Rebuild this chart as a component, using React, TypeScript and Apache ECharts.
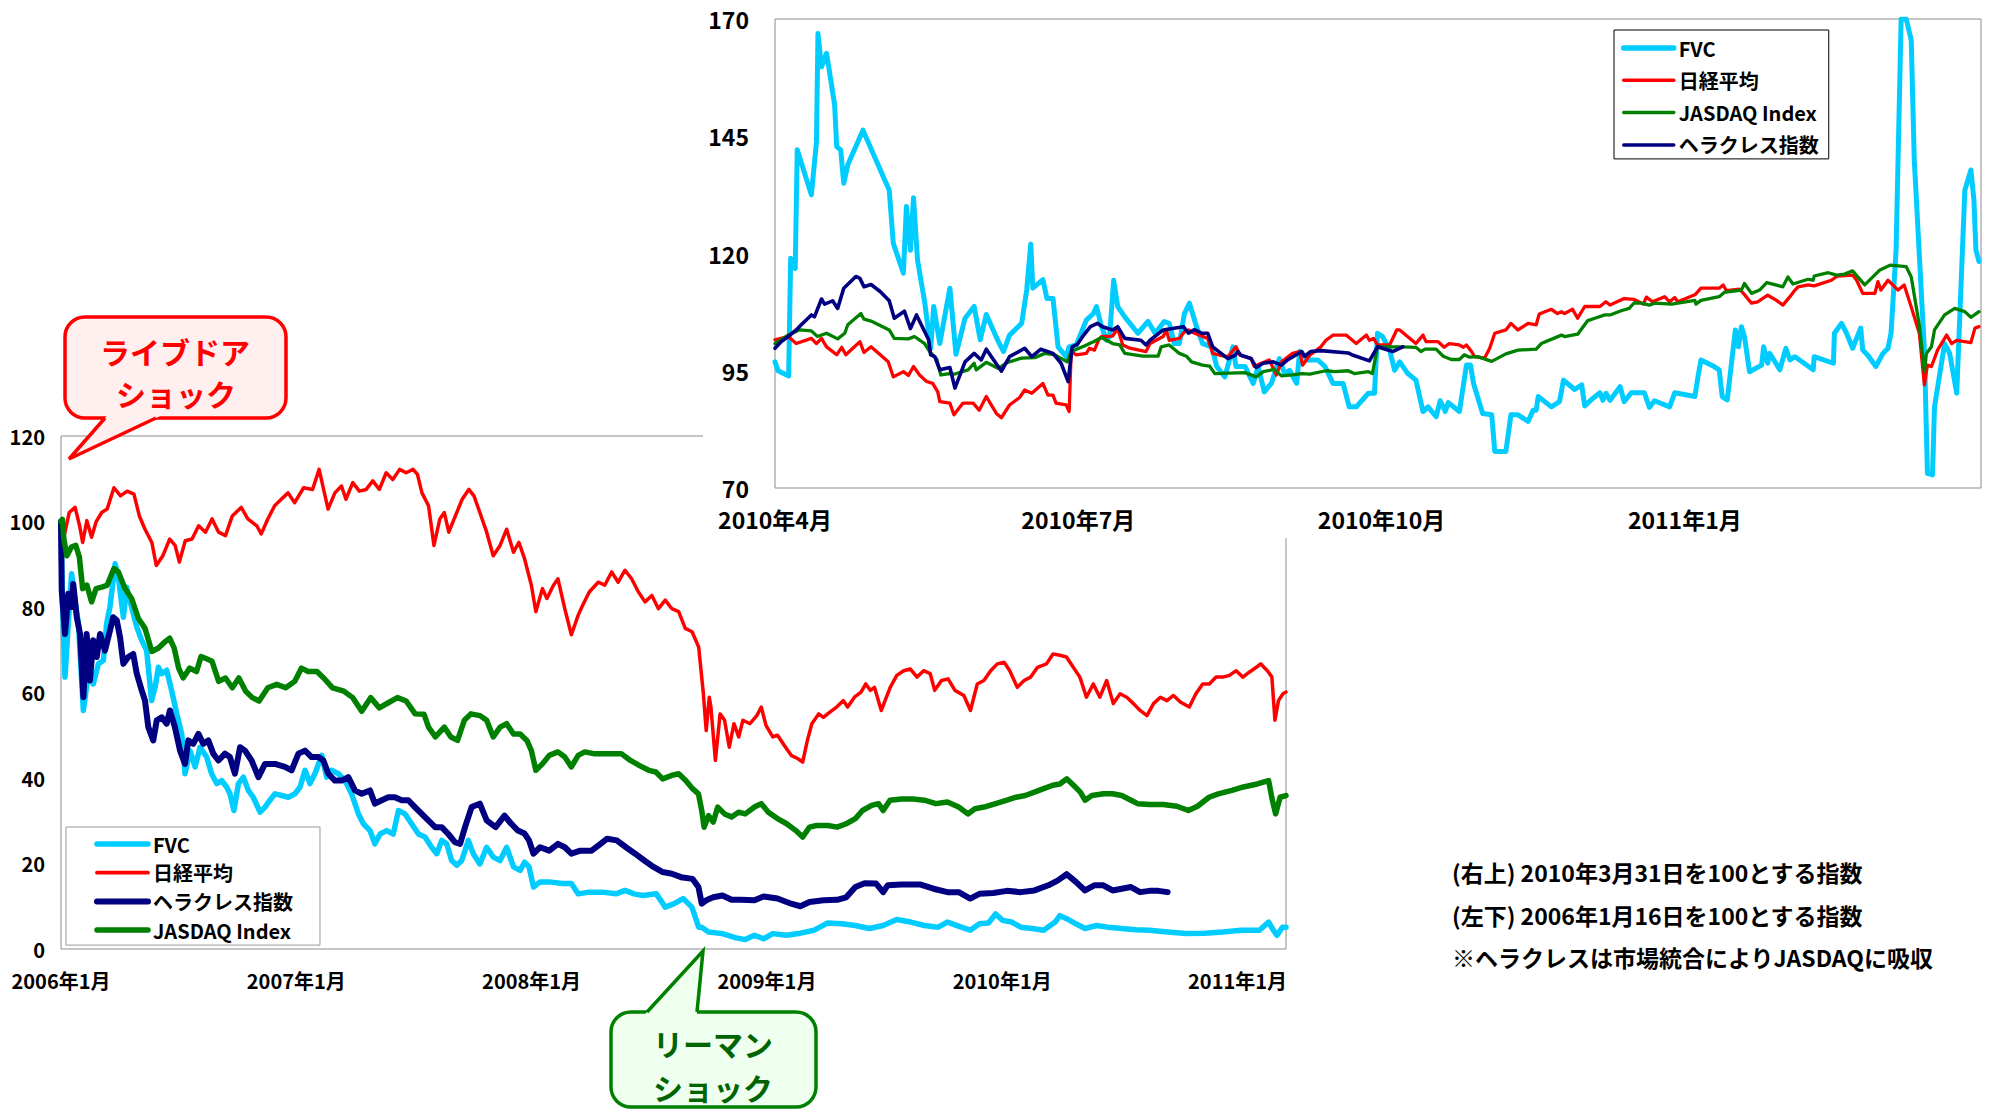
import React, { useEffect, useRef } from 'react';
import * as echarts from 'echarts';

const FONT = '"Noto Sans CJK JP", "Noto Sans", sans-serif';

// ---- labels ----
const trXLabels = ['2010年4月', '2010年7月', '2010年10月', '2011年1月'];
const blXLabels = ['2006年1月', '2007年1月', '2008年1月', '2009年1月', '2010年1月', '2011年1月'];
const NAME_FVC = 'FVC';
const NAME_NIKKEI = '日経平均';
const NAME_JASDAQ = 'JASDAQ Index';
const NAME_HERC = 'ヘラクレス指数';
const notes = [
  '(右上) 2010年3月31日を100とする指数',
  '(左下) 2006年1月16日を100とする指数',
  '※ヘラクレスは市場統合によりJASDAQに吸収',
];

// ---- top-right chart: x = months after 2010-04-01, value = index (2010-03-31 = 100) ----
const trFVC: [number, number][] = [
  [0, 96.9], [0.03, 95.0], [0.135, 93.9], [0.155, 119.0], [0.2, 116.8], [0.22, 142.1], [0.36, 132.5], [0.41, 143.8],
  [0.425, 166.9], [0.46, 159.8], [0.51, 162.7], [0.59, 151.7], [0.61, 142.8], [0.65, 142.1], [0.68, 135.0], [0.72, 138.9],
  [0.87, 146.3], [1.13, 133.5], [1.17, 122.2], [1.27, 115.8], [1.3, 130.0], [1.34, 120.7], [1.37, 131.9], [1.41, 118.6],
  [1.48, 109.7], [1.54, 99.8], [1.57, 108.7], [1.63, 100.8], [1.73, 112.6], [1.79, 98.5], [1.88, 106.2], [1.97, 108.7],
  [2.03, 101.6], [2.09, 107.0], [2.21, 101.2], [2.26, 99.1], [2.32, 102.6], [2.44, 105.1], [2.49, 112.2], [2.53, 122.0],
  [2.55, 112.6], [2.65, 114.4], [2.69, 110.4], [2.75, 110.4], [2.8, 100.1], [2.88, 98.0], [2.91, 100.1], [2.98, 100.5],
  [3.08, 105.8], [3.15, 107.2], [3.18, 108.7], [3.23, 104.4], [3.28, 101.5], [3.31, 102.3], [3.35, 114.3], [3.39, 108.7],
  [3.46, 106.5], [3.59, 103.0], [3.69, 105.5], [3.76, 103.0], [3.85, 105.5], [3.9, 105.1], [3.95, 100.8], [4.0, 100.8],
  [4.05, 107.2], [4.1, 109.4], [4.17, 104.4], [4.23, 100.8], [4.32, 100.1], [4.37, 95.9], [4.45, 93.7], [4.53, 100.1],
  [4.56, 95.9], [4.65, 95.9], [4.73, 92.3], [4.78, 95.9], [4.84, 90.5], [4.91, 92.3], [4.99, 97.6], [5.04, 94.4],
  [5.09, 95.1], [5.16, 92.3], [5.19, 99.1], [5.27, 97.3], [5.37, 97.3], [5.44, 95.9], [5.52, 92.3], [5.62, 92.3],
  [5.68, 87.3], [5.75, 87.3], [5.87, 90.2], [5.93, 90.2], [5.96, 103.0], [6.01, 102.3], [6.08, 99.4], [6.13, 95.1],
  [6.18, 96.9], [6.26, 94.4], [6.34, 93.0], [6.41, 86.3], [6.46, 87.3], [6.54, 85.2], [6.58, 88.6], [6.63, 86.3],
  [6.66, 88.2], [6.77, 86.3], [6.84, 96.2], [6.88, 96.2], [6.91, 92.3], [7.0, 85.9], [7.09, 85.6], [7.12, 77.8],
  [7.23, 77.8], [7.28, 85.6], [7.35, 85.6], [7.45, 84.2], [7.5, 86.6], [7.53, 86.6], [7.55, 89.5], [7.68, 87.3],
  [7.76, 88.4], [7.8, 93.0], [7.91, 91.0], [7.98, 92.0], [8.01, 87.5], [8.09, 89.1], [8.16, 90.3], [8.19, 88.7],
  [8.22, 90.2], [8.26, 88.7], [8.36, 91.6], [8.4, 88.4], [8.47, 90.3], [8.6, 90.3], [8.65, 87.2], [8.7, 88.6],
  [8.85, 87.3], [8.9, 90.3], [9.1, 89.5], [9.13, 93.7], [9.16, 97.3], [9.29, 95.9], [9.34, 95.2], [9.37, 89.5],
  [9.42, 88.8], [9.5, 103.7], [9.53, 100.1], [9.56, 104.4], [9.59, 102.3], [9.64, 94.8], [9.76, 96.2], [9.78, 100.1],
  [9.82, 96.6], [9.84, 98.7], [9.94, 95.2], [10.0, 99.8], [10.04, 97.3], [10.09, 98.0], [10.27, 95.2], [10.28, 98.0],
  [10.47, 96.6], [10.48, 103.0], [10.55, 105.1], [10.6, 103.0], [10.66, 99.8], [10.74, 104.1], [10.76, 99.4], [10.81, 98.3],
  [10.89, 95.9], [10.96, 98.7], [11.01, 99.8], [11.04, 103.0], [11.09, 120.7], [11.14, 170], [11.19, 170], [11.24, 165.5],
  [11.27, 139.9], [11.37, 99.4], [11.4, 73.1], [11.45, 72.8], [11.47, 87.3], [11.57, 100.8], [11.62, 98.7], [11.69, 90.2],
  [11.77, 133.5], [11.83, 137.8], [11.86, 131.4], [11.88, 120.7], [11.91, 118.3],
];
const trNikkei: [number, number][] = [
  [0, 101.6], [0.13, 102.3], [0.21, 100.8], [0.36, 101.9], [0.41, 100.8], [0.46, 101.9], [0.51, 100.1], [0.61, 98.4],
  [0.66, 100.0], [0.7, 98.4], [0.84, 101.2], [0.88, 98.9], [0.95, 100.1], [1.12, 96.9], [1.17, 93.7], [1.27, 94.8],
  [1.32, 94.0], [1.37, 95.9], [1.43, 94.1], [1.5, 92.7], [1.56, 92.3], [1.61, 90.5], [1.63, 88.4], [1.73, 88.1],
  [1.77, 85.6], [1.86, 88.1], [1.96, 88.1], [2.02, 86.6], [2.09, 89.5], [2.19, 85.9], [2.24, 85.0], [2.32, 87.7],
  [2.42, 89.3], [2.47, 90.9], [2.54, 90.2], [2.65, 92.3], [2.7, 89.8], [2.75, 89.8], [2.78, 88.1], [2.88, 87.7],
  [2.91, 86.3], [2.93, 99.1], [2.98, 98.4], [3.08, 98.7], [3.11, 99.8], [3.16, 99.4], [3.2, 101.5], [3.23, 102.3],
  [3.34, 102.4], [3.39, 104.0], [3.44, 100.5], [3.51, 99.8], [3.67, 99.1], [3.71, 100.8], [3.84, 102.3], [3.87, 103.7],
  [3.9, 101.5], [4.0, 101.9], [4.05, 103.3], [4.09, 103.7], [4.15, 103.0], [4.28, 101.9], [4.33, 98.7], [4.4, 98.3],
  [4.48, 98.0], [4.56, 100.1], [4.6, 98.3], [4.71, 97.6], [4.74, 95.9], [4.81, 96.6], [4.89, 97.3], [4.96, 94.1],
  [5.01, 96.9], [5.12, 98.7], [5.19, 99.1], [5.22, 96.2], [5.29, 98.3], [5.4, 100.1], [5.45, 101.5], [5.52, 102.6],
  [5.65, 102.6], [5.75, 100.8], [5.85, 102.6], [5.88, 101.5], [5.92, 101.9], [5.96, 100.5], [6.08, 100.5], [6.15, 103.7],
  [6.18, 103.7], [6.34, 100.8], [6.41, 102.6], [6.44, 101.2], [6.56, 101.2], [6.62, 100.0], [6.67, 100.8], [6.77, 100.5],
  [6.81, 100.0], [6.84, 100.5], [6.89, 99.1], [6.92, 98.0], [7.02, 97.7], [7.07, 99.8], [7.12, 103.0], [7.23, 103.7],
  [7.28, 105.1], [7.35, 103.7], [7.45, 105.1], [7.53, 104.8], [7.56, 107.1], [7.68, 108.1], [7.74, 107.2], [7.78, 107.6],
  [7.81, 107.2], [7.89, 108.1], [7.94, 106.2], [8.01, 108.7], [8.16, 108.7], [8.22, 109.7], [8.26, 109.0], [8.4, 110.4],
  [8.5, 110.2], [8.59, 109.2], [8.62, 110.7], [8.68, 109.7], [8.8, 110.8], [8.85, 109.7], [8.9, 110.6], [8.93, 109.7],
  [9.1, 111.2], [9.16, 112.6], [9.34, 112.6], [9.38, 113.3], [9.41, 112.1], [9.54, 112.4], [9.58, 111.5], [9.66, 109.4],
  [9.72, 109.7], [9.82, 111.1], [9.9, 110.1], [9.97, 109.0], [10.04, 110.8], [10.09, 112.2], [10.12, 112.9], [10.22, 113.3],
  [10.28, 113.1], [10.45, 114.3], [10.51, 115.2], [10.66, 115.4], [10.7, 114.3], [10.76, 111.5], [10.88, 111.5], [10.91, 114.0],
  [10.94, 112.2], [11.01, 114.3], [11.11, 112.2], [11.17, 113.3], [11.24, 108.6], [11.32, 103.0], [11.37, 92.0], [11.4, 96.2],
  [11.44, 95.9], [11.5, 99.4], [11.59, 102.6], [11.64, 100.8], [11.69, 101.5], [11.83, 101.0], [11.87, 104.1], [11.91, 104.4],
];
const trJasdaq: [number, number][] = [
  [0, 100.8], [0.13, 102.6], [0.24, 103.7], [0.36, 103.5], [0.42, 102.3], [0.51, 103.0], [0.62, 101.8], [0.69, 103.0],
  [0.72, 104.8], [0.85, 107.2], [0.88, 106.0], [0.95, 105.6], [1.13, 103.7], [1.18, 101.9], [1.32, 101.8], [1.38, 102.3],
  [1.48, 100.8], [1.53, 99.1], [1.6, 97.5], [1.64, 94.1], [1.73, 94.4], [1.78, 94.3], [1.91, 95.2], [1.97, 96.6],
  [1.99, 95.2], [2.09, 96.8], [2.21, 95.5], [2.3, 96.8], [2.44, 97.7], [2.57, 97.8], [2.67, 98.7], [2.77, 98.4],
  [2.89, 96.9], [2.93, 99.1], [3.06, 100.3], [3.15, 101.2], [3.23, 102.1], [3.34, 100.8], [3.41, 100.5], [3.46, 98.7],
  [3.64, 98.1], [3.79, 98.1], [3.82, 100.1], [3.9, 100.5], [4.0, 98.7], [4.07, 98.1], [4.12, 96.9], [4.23, 96.2],
  [4.3, 96.0], [4.35, 94.4], [4.65, 94.6], [4.76, 93.7], [4.83, 94.8], [4.94, 95.3], [5.01, 93.9], [5.12, 94.1],
  [5.21, 94.4], [5.29, 94.3], [5.45, 95.0], [5.54, 94.8], [5.67, 95.0], [5.73, 94.4], [5.87, 94.8], [5.91, 94.4],
  [5.96, 100.1], [6.21, 100.1], [6.34, 100.0], [6.39, 99.1], [6.43, 99.6], [6.54, 99.6], [6.61, 98.1], [6.69, 97.4],
  [6.77, 97.4], [6.82, 98.4], [6.87, 97.9], [6.95, 98.0], [7.09, 97.0], [7.23, 98.6], [7.35, 99.4], [7.53, 99.6],
  [7.58, 100.8], [7.78, 102.6], [7.81, 102.3], [7.94, 102.8], [8.04, 105.7], [8.11, 106.2], [8.21, 106.9], [8.26, 106.9],
  [8.37, 107.8], [8.45, 108.3], [8.5, 109.5], [8.57, 109.4], [8.65, 109.0], [8.7, 109.4], [8.87, 109.2], [9.1, 110.0],
  [9.11, 109.2], [9.16, 110.0], [9.34, 110.8], [9.39, 111.7], [9.56, 112.2], [9.59, 113.6], [9.66, 111.5], [9.74, 112.2],
  [9.81, 113.8], [9.97, 112.9], [10.02, 115.0], [10.07, 113.5], [10.22, 114.5], [10.27, 114.3], [10.28, 115.2], [10.42, 115.9],
  [10.5, 115.4], [10.58, 115.6], [10.66, 116.3], [10.78, 113.3], [10.93, 116.5], [11.03, 117.5], [11.19, 117.2], [11.24, 115.0],
  [11.32, 104.7], [11.37, 94.8], [11.39, 98.7], [11.44, 100.1], [11.47, 103.7], [11.57, 106.9], [11.67, 108.3], [11.77, 107.6],
  [11.83, 106.4], [11.91, 107.6],
];
const trHerc: [number, number][] = [
  [0, 99.8], [0.06, 101.2], [0.13, 102.3], [0.21, 103.7], [0.26, 104.8], [0.36, 106.9], [0.39, 106.5], [0.46, 110.3],
  [0.49, 109.2], [0.57, 109.9], [0.62, 108.3], [0.68, 112.6], [0.8, 115.1], [0.84, 114.7], [0.88, 112.9], [0.95, 113.4],
  [1.04, 111.9], [1.13, 109.9], [1.18, 106.2], [1.28, 107.7], [1.34, 104.0], [1.4, 106.9], [1.52, 101.6], [1.54, 98.4],
  [1.58, 98.0], [1.63, 95.2], [1.73, 95.7], [1.78, 91.3], [1.88, 96.9], [1.97, 98.7], [2.04, 97.3], [2.09, 99.6],
  [2.24, 94.9], [2.32, 98.0], [2.47, 99.8], [2.54, 98.0], [2.63, 99.6], [2.75, 98.7], [2.83, 96.6], [2.9, 92.7],
  [2.94, 100.1], [2.99, 100.6], [3.05, 102.5], [3.12, 104.4], [3.19, 105.1], [3.24, 104.4], [3.34, 103.7], [3.39, 104.4],
  [3.46, 101.9], [3.62, 101.5], [3.67, 100.5], [3.71, 101.5], [3.84, 103.7], [4.04, 104.4], [4.09, 103.0], [4.15, 103.8],
  [4.22, 103.0], [4.28, 103.0], [4.33, 100.1], [4.48, 97.6], [4.55, 98.3], [4.58, 99.1], [4.61, 98.3], [4.71, 97.6],
  [4.76, 95.7], [4.83, 96.6], [4.93, 96.9], [5.01, 96.2], [5.07, 97.3], [5.21, 99.1], [5.24, 98.1], [5.3, 99.1],
  [5.4, 99.3], [5.67, 98.8], [5.72, 98.3], [5.88, 97.1], [5.96, 100.1], [6.11, 99.1], [6.21, 100.1],
];

// ---- bottom-left chart: x = years after 2006-01-16, value = index (2006-01-16 = 100) ----
const blFVC: [number, number][] = [
  [0, 100], [0.006, 81.5], [0.017, 63.6], [0.031, 76.1], [0.045, 87.8], [0.059, 81.5], [0.074, 76.1], [0.095, 55.8],
  [0.116, 64.4], [0.137, 62.0], [0.159, 66.7], [0.18, 67.5], [0.194, 76.1], [0.208, 80.0], [0.23, 90.1], [0.244, 87.0],
  [0.265, 77.6], [0.279, 84.6], [0.3, 80.0], [0.322, 75.3], [0.343, 72.2], [0.364, 69.8], [0.385, 58.1], [0.4, 61.3],
  [0.414, 65.9], [0.428, 64.4], [0.449, 65.2], [0.47, 60.5], [0.492, 55.0], [0.513, 50.3], [0.527, 41.0], [0.548, 46.4],
  [0.57, 42.6], [0.591, 47.2], [0.619, 44.9], [0.64, 41.0], [0.662, 38.7], [0.683, 39.4], [0.704, 37.9], [0.718, 36.3],
  [0.735, 32.4], [0.754, 38.7], [0.775, 40.2], [0.796, 37.1], [0.817, 35.5], [0.846, 32.0], [0.867, 33.2], [0.888, 34.8],
  [0.909, 36.3], [0.938, 35.9], [0.966, 35.5], [0.994, 36.3], [1.016, 37.9], [1.037, 41.8], [1.058, 38.7], [1.079, 41.0],
  [1.108, 45.3], [1.129, 40.2], [1.15, 41.8], [1.179, 41.0], [1.207, 39.4], [1.235, 36.3], [1.264, 31.6], [1.285, 29.3],
  [1.313, 27.7], [1.334, 24.6], [1.356, 26.9], [1.384, 27.7], [1.412, 26.9], [1.434, 32.4], [1.462, 31.6], [1.49, 29.3],
  [1.519, 26.9], [1.547, 26.2], [1.575, 23.8], [1.597, 22.3], [1.618, 25.4], [1.639, 24.6], [1.66, 20.7], [1.682, 19.6],
  [1.703, 20.7], [1.731, 25.4], [1.752, 22.3], [1.78, 19.9], [1.809, 23.8], [1.837, 21.5], [1.866, 20.7], [1.894, 23.8],
  [1.923, 19.2], [1.951, 18.4], [1.97, 20.3], [1.989, 19.2], [2.008, 14.5], [2.036, 15.7], [2.075, 15.7], [2.131, 15.3],
  [2.169, 15.3], [2.198, 12.9], [2.245, 13.3], [2.302, 13.3], [2.359, 12.9], [2.397, 13.7], [2.435, 12.9], [2.473, 12.5],
  [2.53, 12.9], [2.568, 9.8], [2.606, 10.6], [2.644, 11.8], [2.681, 9.8], [2.71, 5.1], [2.723, 5.1], [2.752, 4.0],
  [2.81, 3.6], [2.869, 2.6], [2.908, 2.2], [2.947, 3.2], [2.986, 2.4], [3.025, 3.6], [3.084, 3.2], [3.142, 3.7],
  [3.201, 4.4], [3.259, 6.1], [3.318, 5.9], [3.376, 5.5], [3.435, 4.8], [3.494, 5.5], [3.552, 6.9], [3.611, 6.3],
  [3.669, 5.5], [3.728, 5.1], [3.767, 6.3], [3.826, 5.1], [3.864, 4.4], [3.903, 5.9], [3.942, 6.1], [3.972, 8.2],
  [4.001, 6.7], [4.04, 6.3], [4.079, 5.1], [4.128, 4.8], [4.176, 4.4], [4.225, 6.3], [4.245, 7.8], [4.274, 7.1],
  [4.313, 5.9], [4.352, 4.8], [4.401, 5.5], [4.45, 5.1], [4.508, 4.8], [4.567, 4.5], [4.625, 4.4], [4.703, 4.0],
  [4.781, 3.6], [4.86, 3.7], [4.937, 4.0], [5.015, 4.4], [5.093, 4.4], [5.132, 6.3], [5.152, 4.4], [5.168, 3.2],
  [5.191, 5.1], [5.206, 5.1],
];
const blNikkei: [number, number][] = [
  [0, 100], [0.012, 96.3], [0.035, 102.1], [0.06, 103.3], [0.079, 99.0], [0.092, 95.1], [0.11, 100.2], [0.13, 96.3],
  [0.149, 99.9], [0.173, 102.1], [0.196, 102.9], [0.225, 107.9], [0.253, 106.0], [0.281, 107.1], [0.31, 106.4], [0.333, 101.3],
  [0.357, 98.2], [0.386, 95.1], [0.405, 89.7], [0.433, 92.0], [0.462, 95.9], [0.485, 94.4], [0.503, 90.5], [0.528, 95.5],
  [0.557, 95.9], [0.585, 99.0], [0.614, 97.5], [0.642, 100.6], [0.67, 97.5], [0.699, 96.7], [0.728, 101.3], [0.766, 103.3],
  [0.794, 100.6], [0.832, 99.0], [0.851, 97.1], [0.879, 100.6], [0.908, 103.7], [0.936, 105.2], [0.965, 106.7], [0.993, 104.4],
  [1.031, 107.9], [1.069, 107.5], [1.097, 112.2], [1.116, 107.5], [1.135, 102.9], [1.164, 106.7], [1.192, 108.3], [1.211, 105.2],
  [1.24, 109.1], [1.268, 107.1], [1.297, 107.5], [1.325, 109.5], [1.353, 107.5], [1.382, 111.4], [1.41, 109.8], [1.439, 112.2],
  [1.467, 111.4], [1.496, 112.2], [1.515, 111.0], [1.534, 106.7], [1.562, 103.7], [1.585, 94.4], [1.61, 100.6], [1.629, 102.1],
  [1.648, 97.5], [1.676, 101.3], [1.705, 105.2], [1.733, 107.5], [1.755, 106.0], [1.78, 102.1], [1.809, 97.5], [1.837, 92.0],
  [1.866, 94.4], [1.894, 98.2], [1.923, 92.8], [1.946, 95.1], [1.97, 91.3], [1.999, 85.1], [2.018, 78.9], [2.046, 84.3],
  [2.065, 82.0], [2.093, 85.1], [2.112, 86.6], [2.141, 79.6], [2.169, 73.5], [2.198, 78.1], [2.217, 80.4], [2.245, 83.5],
  [2.283, 85.8], [2.311, 85.1], [2.34, 88.2], [2.368, 85.8], [2.397, 88.6], [2.425, 86.6], [2.454, 83.5], [2.482, 81.2],
  [2.511, 82.7], [2.539, 79.6], [2.568, 81.6], [2.596, 79.6], [2.625, 78.9], [2.653, 75.0], [2.682, 74.2], [2.71, 70.6],
  [2.73, 59.7], [2.742, 51.1], [2.755, 58.9], [2.762, 56.6], [2.781, 44.1], [2.801, 55.0], [2.82, 53.5], [2.84, 47.2],
  [2.86, 52.7], [2.88, 49.6], [2.898, 53.5], [2.928, 52.7], [2.957, 54.6], [2.976, 56.6], [2.996, 52.3], [3.025, 49.6],
  [3.045, 50.0], [3.074, 47.6], [3.103, 45.3], [3.132, 44.5], [3.152, 43.7], [3.172, 48.8], [3.191, 52.7], [3.22, 55.0],
  [3.24, 54.2], [3.258, 55.0], [3.296, 56.6], [3.325, 58.1], [3.343, 56.6], [3.372, 58.9], [3.4, 60.1], [3.42, 62.0],
  [3.44, 60.5], [3.457, 61.2], [3.486, 55.8], [3.524, 61.2], [3.552, 64.0], [3.581, 65.1], [3.609, 65.5], [3.638, 63.6],
  [3.666, 65.1], [3.694, 64.4], [3.713, 60.5], [3.742, 62.8], [3.77, 63.2], [3.799, 60.5], [3.837, 59.3], [3.865, 55.8],
  [3.894, 62.0], [3.922, 62.8], [3.951, 65.1], [3.979, 66.7], [4.008, 67.1], [4.032, 65.1], [4.064, 61.2], [4.093, 62.8],
  [4.121, 63.6], [4.15, 65.9], [4.188, 66.7], [4.216, 69.0], [4.245, 68.7], [4.273, 68.3], [4.302, 65.9], [4.33, 63.6],
  [4.358, 58.9], [4.387, 62.0], [4.415, 58.9], [4.444, 62.8], [4.472, 57.4], [4.501, 59.7], [4.529, 58.9], [4.558, 57.4],
  [4.586, 55.8], [4.615, 54.6], [4.643, 57.4], [4.672, 58.9], [4.7, 58.1], [4.728, 59.3], [4.757, 57.8], [4.795, 56.6],
  [4.823, 59.7], [4.852, 62.0], [4.88, 62.0], [4.909, 63.6], [4.937, 63.6], [4.966, 64.0], [4.994, 65.1], [5.023, 63.6],
  [5.051, 64.8], [5.08, 65.9], [5.098, 66.7], [5.127, 65.1], [5.146, 63.6], [5.159, 53.5], [5.174, 58.1], [5.193, 59.7],
  [5.206, 60.1],
];
const blHerc: [number, number][] = [
  [0, 100], [0.003, 83.9], [0.017, 73.7], [0.031, 83.1], [0.045, 80.0], [0.052, 85.4], [0.067, 77.6], [0.081, 73.7],
  [0.095, 58.9], [0.109, 73.7], [0.123, 62.8], [0.137, 72.2], [0.152, 68.3], [0.166, 73.7], [0.187, 69.8], [0.201, 72.9],
  [0.222, 77.6], [0.237, 76.9], [0.251, 72.9], [0.265, 66.7], [0.286, 68.3], [0.307, 69.0], [0.322, 64.4], [0.343, 60.5],
  [0.357, 58.1], [0.371, 51.9], [0.392, 48.8], [0.407, 53.5], [0.428, 54.2], [0.449, 52.7], [0.463, 55.8], [0.484, 51.9],
  [0.506, 46.4], [0.527, 43.3], [0.541, 48.8], [0.562, 48.0], [0.584, 50.3], [0.605, 48.0], [0.626, 48.8], [0.647, 45.7],
  [0.669, 44.1], [0.697, 45.7], [0.718, 44.9], [0.739, 41.0], [0.761, 47.2], [0.782, 46.4], [0.81, 44.1], [0.839, 40.2],
  [0.867, 43.3], [0.909, 43.3], [0.952, 42.6], [0.98, 41.8], [1.009, 45.7], [1.037, 46.4], [1.065, 44.9], [1.094, 44.9],
  [1.115, 44.1], [1.136, 41.0], [1.164, 39.4], [1.193, 39.4], [1.221, 40.2], [1.249, 37.1], [1.278, 36.3], [1.313, 37.1],
  [1.334, 34.0], [1.363, 34.8], [1.391, 35.5], [1.419, 35.5], [1.448, 34.8], [1.476, 34.8], [1.504, 33.2], [1.533, 31.6],
  [1.561, 30.1], [1.59, 28.5], [1.618, 28.5], [1.646, 26.9], [1.674, 25.0], [1.696, 24.6], [1.717, 28.5], [1.745, 33.2],
  [1.78, 34.0], [1.809, 30.1], [1.847, 28.5], [1.885, 31.2], [1.913, 29.3], [1.942, 27.7], [1.97, 27.0], [1.989, 25.4],
  [2.008, 22.3], [2.036, 23.8], [2.075, 23.0], [2.112, 24.6], [2.141, 23.8], [2.169, 22.3], [2.207, 23.0], [2.255, 23.0],
  [2.293, 24.6], [2.321, 25.8], [2.362, 25.4], [2.401, 23.8], [2.44, 22.3], [2.479, 20.7], [2.518, 19.2], [2.557, 18.0],
  [2.596, 17.6], [2.635, 16.8], [2.684, 16.4], [2.709, 14.5], [2.723, 10.6], [2.742, 11.4], [2.772, 12.1], [2.811, 12.5],
  [2.85, 11.5], [2.889, 11.5], [2.947, 11.4], [2.986, 12.3], [3.045, 11.8], [3.103, 10.6], [3.142, 10.0], [3.181, 11.0],
  [3.24, 11.4], [3.298, 11.5], [3.337, 12.1], [3.376, 14.5], [3.415, 15.4], [3.464, 15.3], [3.494, 13.3], [3.513, 14.9],
  [3.572, 15.1], [3.65, 15.1], [3.708, 14.1], [3.767, 13.3], [3.815, 13.3], [3.864, 11.8], [3.903, 12.9], [3.962, 13.1],
  [4.02, 13.6], [4.079, 13.3], [4.137, 13.7], [4.196, 14.9], [4.235, 16.0], [4.274, 17.5], [4.313, 15.7], [4.352, 13.7],
  [4.391, 14.9], [4.43, 14.9], [4.469, 13.7], [4.508, 14.1], [4.547, 14.5], [4.586, 13.3], [4.625, 13.6], [4.664, 13.6],
  [4.703, 13.3],
];
const blJasdaq: [number, number][] = [
  [0, 100], [0.006, 100.5], [0.012, 95.9], [0.025, 92.0], [0.044, 94.0], [0.063, 94.4], [0.078, 91.7], [0.092, 84.3],
  [0.11, 85.1], [0.13, 81.2], [0.149, 84.3], [0.177, 84.7], [0.196, 85.1], [0.225, 89.0], [0.244, 88.2], [0.272, 84.3],
  [0.3, 82.0], [0.329, 77.3], [0.357, 75.0], [0.386, 69.6], [0.414, 70.4], [0.443, 71.9], [0.462, 72.7], [0.481, 70.4],
  [0.5, 65.7], [0.519, 63.4], [0.547, 65.7], [0.576, 64.9], [0.595, 68.4], [0.614, 68.0], [0.642, 67.3], [0.67, 62.6],
  [0.699, 63.4], [0.728, 61.1], [0.756, 63.4], [0.785, 60.3], [0.813, 58.8], [0.842, 58.0], [0.879, 61.1], [0.917, 61.9],
  [0.955, 61.1], [0.993, 62.6], [1.022, 65.7], [1.05, 64.9], [1.088, 64.9], [1.116, 63.4], [1.154, 61.1], [1.202, 60.3],
  [1.24, 58.8], [1.278, 55.6], [1.316, 58.8], [1.353, 56.4], [1.391, 57.6], [1.43, 58.8], [1.467, 58.0], [1.505, 55.0],
  [1.543, 54.9], [1.562, 51.9], [1.591, 49.6], [1.629, 51.9], [1.657, 49.6], [1.685, 48.8], [1.714, 53.5], [1.742, 55.0],
  [1.78, 54.6], [1.809, 53.5], [1.837, 49.6], [1.866, 51.9], [1.894, 52.7], [1.923, 50.3], [1.951, 50.3], [1.98, 48.8],
  [1.999, 46.4], [2.018, 41.8], [2.046, 43.3], [2.075, 45.3], [2.112, 46.1], [2.141, 44.9], [2.169, 42.6], [2.198, 45.3],
  [2.226, 46.1], [2.264, 45.7], [2.323, 45.7], [2.381, 45.7], [2.42, 44.1], [2.459, 42.9], [2.498, 41.8], [2.528, 41.4],
  [2.557, 39.8], [2.596, 40.6], [2.625, 41.0], [2.655, 39.4], [2.684, 37.5], [2.709, 36.3], [2.723, 32.4], [2.733, 28.5],
  [2.752, 31.2], [2.772, 29.7], [2.791, 33.2], [2.82, 31.6], [2.85, 30.9], [2.879, 32.0], [2.908, 31.6], [2.947, 33.2],
  [2.976, 34.0], [3.006, 32.0], [3.045, 30.5], [3.084, 29.3], [3.123, 27.7], [3.152, 26.2], [3.181, 28.5], [3.211, 28.9],
  [3.259, 28.9], [3.298, 28.5], [3.337, 29.3], [3.376, 30.5], [3.406, 32.4], [3.445, 33.6], [3.474, 34.0], [3.494, 32.4],
  [3.523, 34.8], [3.572, 35.1], [3.62, 35.1], [3.669, 34.8], [3.718, 34.0], [3.767, 34.4], [3.815, 33.2], [3.854, 31.6],
  [3.884, 32.8], [3.923, 33.2], [3.972, 34.0], [4.02, 34.8], [4.059, 35.5], [4.098, 35.9], [4.137, 36.7], [4.176, 37.5],
  [4.215, 38.3], [4.245, 38.6], [4.274, 39.8], [4.303, 38.3], [4.332, 36.7], [4.352, 34.8], [4.381, 35.9], [4.43, 36.3],
  [4.469, 36.3], [4.508, 35.9], [4.547, 34.8], [4.576, 34.0], [4.625, 33.8], [4.684, 33.8], [4.742, 33.4], [4.791, 32.4],
  [4.83, 33.4], [4.879, 35.5], [4.918, 36.3], [4.976, 37.1], [5.025, 37.9], [5.084, 38.6], [5.132, 39.4], [5.148, 34.8],
  [5.162, 31.6], [5.181, 35.5], [5.206, 35.9],
];

const C_FVC = '#00CCFF';
const C_NIKKEI = '#FF0000';
const C_JASDAQ = '#008000';
const C_HERC = '#000080';

function lineSeries(name: string, data: [number, number][], color: string, width: number, idx: number, z: number) {
  return {
    type: 'line',
    name,
    data,
    xAxisIndex: idx,
    yAxisIndex: idx,
    showSymbol: false,
    symbol: 'none',
    clip: true,
    silent: true,
    z,
    lineStyle: { color, width, cap: 'round', join: 'round' },
    itemStyle: { color },
  };
}

const labelFont = (size: number) => ({ fontSize: size, fontWeight: 'bold', color: '#000', fontFamily: FONT });

export default function App() {
  const ref = useRef<HTMLDivElement>(null);
  useEffect(() => {
    if (!ref.current) return;
    const chart = echarts.init(ref.current, undefined, { renderer: 'svg' });
    const legendText = { fontSize: 20, fontWeight: 'bold', color: '#000', fontFamily: FONT, lineHeight: 22 };
    const noSymbol = { opacity: 0, borderWidth: 0 };
    const option: any = {
      animation: false,
      backgroundColor: '#fff',
      textStyle: { fontFamily: FONT },
      grid: [
        { left: 61, top: 436, width: 1225, height: 513, show: true, borderColor: '#8c8c8c', borderWidth: 1, backgroundColor: 'transparent', z: 0 },
        { left: 775, top: 19, width: 1206, height: 469, show: true, borderColor: '#8c8c8c', borderWidth: 1, backgroundColor: 'transparent', z: 6 },
      ],
      xAxis: [
        {
          type: 'value', gridIndex: 0, min: 0, max: 5.206, interval: 1,
          axisLine: { show: false }, axisTick: { show: false }, splitLine: { show: false },
          axisLabel: {
            ...labelFont(20), margin: 21, showMaxLabel: false,
            formatter: (v: number) => { const i = Math.round(v); return Math.abs(v - i) > 1e-6 ? '' : (blXLabels[i] ?? ''); },
          },
        },
        {
          type: 'value', gridIndex: 1, min: 0, max: 11.93, interval: 3, z: 7,
          axisLine: { show: false }, axisTick: { show: false }, splitLine: { show: false },
          axisLabel: {
            ...labelFont(23), margin: 19, showMaxLabel: false,
            formatter: (v: number) => { const i = Math.round(v / 3); return Math.abs(v - i * 3) > 1e-6 ? '' : (trXLabels[i] ?? ''); },
          },
        },
      ],
      yAxis: [
        {
          type: 'value', gridIndex: 0, min: 0, max: 120, interval: 20,
          axisLine: { show: false }, axisTick: { show: false }, splitLine: { show: false },
          axisLabel: { ...labelFont(20), margin: 16 },
        },
        {
          type: 'value', gridIndex: 1, min: 70, max: 170, interval: 25, z: 7,
          axisLine: { show: false }, axisTick: { show: false }, splitLine: { show: false },
          axisLabel: { ...labelFont(23), margin: 26 },
        },
      ],
      legend: [
        {
          orient: 'vertical', left: 1614, top: 30, padding: [7, 10, 3, 7], itemGap: 10.3,
          itemWidth: 50, itemHeight: 14, backgroundColor: '#fff', borderColor: '#000', borderWidth: 1,
          selectedMode: false, z: 10, textStyle: legendText, itemStyle: noSymbol,
          data: [
            { name: NAME_FVC, lineStyle: { width: 5.5 }, itemStyle: noSymbol },
            { name: NAME_NIKKEI, lineStyle: { width: 3.5 }, itemStyle: noSymbol },
            { name: NAME_JASDAQ, lineStyle: { width: 3.5 }, itemStyle: noSymbol },
            { name: NAME_HERC, lineStyle: { width: 3.5 }, itemStyle: noSymbol },
          ],
        },
        {
          orient: 'vertical', left: 66, top: 827, padding: [6, 27, 4, 28], itemGap: 6.7,
          itemWidth: 51, itemHeight: 14, backgroundColor: '#fff', borderColor: '#999', borderWidth: 1,
          selectedMode: false, z: 10, textStyle: legendText, itemStyle: noSymbol,
          data: [
            { name: NAME_FVC, lineStyle: { width: 5.5 }, itemStyle: noSymbol },
            { name: NAME_NIKKEI, lineStyle: { width: 3.8 }, itemStyle: noSymbol },
            { name: NAME_HERC, lineStyle: { width: 6 }, itemStyle: noSymbol },
            { name: NAME_JASDAQ, lineStyle: { width: 5.5 }, itemStyle: noSymbol },
          ],
        },
      ],
      series: [
        lineSeries(NAME_FVC, blFVC, C_FVC, 5.5, 0, 2),
        lineSeries(NAME_NIKKEI, blNikkei, C_NIKKEI, 3.5, 0, 2),
        lineSeries(NAME_HERC, blHerc, C_HERC, 6, 0, 2),
        lineSeries(NAME_JASDAQ, blJasdaq, C_JASDAQ, 5.5, 0, 2),
        lineSeries(NAME_FVC, trFVC, C_FVC, 5, 1, 8),
        lineSeries(NAME_NIKKEI, trNikkei, C_NIKKEI, 3.3, 1, 8),
        lineSeries(NAME_JASDAQ, trJasdaq, C_JASDAQ, 3.3, 1, 8),
        lineSeries(NAME_HERC, trHerc, C_HERC, 3.6, 1, 8),
      ],
      graphic: {
        elements: [
          // white backdrop of the inset chart
          { type: 'rect', shape: { x: 703, y: 0, width: 1288, height: 538 }, style: { fill: '#fff' }, z: 5, silent: true },
          // Livedoor callout
          { type: 'rect', shape: { x: 65, y: 317, width: 221, height: 101, r: 20 }, style: { fill: '#FFEFEF', stroke: '#FF0000', lineWidth: 3.5 }, z: 20 },
          { type: 'polygon', shape: { points: [[108.5, 414], [69, 459], [164.5, 414]] }, style: { fill: '#FFEFEF' }, z: 21 },
          { type: 'polyline', shape: { points: [[105, 418], [69, 459], [156, 418]] }, style: { stroke: '#FF0000', lineWidth: 3.5, fill: 'none' }, z: 22 },
          { type: 'text', x: 175, y: 351, style: { text: 'ライブドア', fontSize: 30, fontWeight: 'bold', fontFamily: FONT, fill: '#FF0000', align: 'center', verticalAlign: 'middle' }, z: 23 },
          { type: 'text', x: 176, y: 393, style: { text: 'ショック', fontSize: 30, fontWeight: 'bold', fontFamily: FONT, fill: '#FF0000', align: 'center', verticalAlign: 'middle' }, z: 23 },
          // Lehman callout
          { type: 'rect', shape: { x: 611, y: 1012, width: 205, height: 95, r: 20 }, style: { fill: '#EFFFEF', stroke: '#008000', lineWidth: 3.5 }, z: 20 },
          { type: 'polygon', shape: { points: [[643.3, 1016], [703, 951], [696.6, 1016]] }, style: { fill: '#EFFFEF' }, z: 21 },
          { type: 'polyline', shape: { points: [[647, 1012], [703, 951], [697, 1012]] }, style: { stroke: '#008000', lineWidth: 3.5, fill: 'none' }, z: 22 },
          { type: 'text', x: 713, y: 1043, style: { text: 'リーマン', fontSize: 30, fontWeight: 'bold', fontFamily: FONT, fill: '#006400', align: 'center', verticalAlign: 'middle' }, z: 23 },
          { type: 'text', x: 713, y: 1087, style: { text: 'ショック', fontSize: 30, fontWeight: 'bold', fontFamily: FONT, fill: '#006400', align: 'center', verticalAlign: 'middle' }, z: 23 },
          // notes
          ...notes.map((t, i) => ({
            type: 'text', x: 1452, y: 872 + i * 42.5,
            style: { text: t, fontSize: 23, fontWeight: 'bold', fontFamily: FONT, fill: '#000', align: 'left', verticalAlign: 'middle' },
            z: 20,
          })),
        ],
      },
    };
    chart.setOption(option);
    return () => chart.dispose();
  }, []);
  return <div ref={ref} style={{ position: 'fixed', left: 0, top: 0, width: 1991, height: 1109, background: '#fff' }} />;
}
